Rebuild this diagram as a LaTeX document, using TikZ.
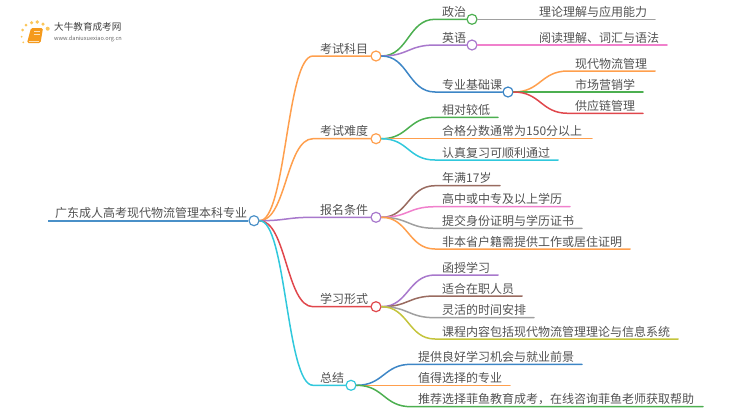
\documentclass[tikz,border=0pt]{standalone}
\usepackage{fontspec}
\setmainfont{Noto Sans CJK SC}
\usepackage{xcolor}
\usetikzlibrary{calc}
\definecolor{rootblue}{HTML}{4A90C8}
\definecolor{orangeline}{HTML}{FF9F4D}
\definecolor{greenline}{HTML}{4CAF50}
\definecolor{purpleline}{HTML}{A878CC}
\definecolor{blueline}{HTML}{3D86C6}
\definecolor{redline}{HTML}{E0474C}
\definecolor{cyanline}{HTML}{30C8DC}
\definecolor{brownline}{HTML}{996B60}
\definecolor{pinkline}{HTML}{F080CC}
\definecolor{grayline}{HTML}{A0A0A0}
\definecolor{oliveline}{HTML}{C4C43C}
\definecolor{logoorange}{HTML}{F59A1C}
\definecolor{logodot}{HTML}{FBC65A}
\tikzset{
  topicnode/.style={font=\fontsize{12}{14}\selectfont,text=black!68,inner sep=0pt,anchor=base west},
  junction/.style={circle,draw,fill=white,line width=1.2pt,minimum size=10pt,inner sep=0pt},
  branchline/.style={line width=1.5pt,line cap=round},
  linkcurve/.style={to path={.. controls ($(\tikztostart)!.5!(\tikztotarget|-\tikztostart)$)
    and ($(\tikztotarget)!.5!(\tikztostart|-\tikztotarget)$) .. (\tikztotarget)}},
  logodots/.style={circle,fill=logodot,inner sep=0pt}
}
\begin{document}
\begin{tikzpicture}[x=1pt,y=-1pt]
  \useasboundingbox (0,0) rectangle (750,410);
  % logo
  \foreach \x/\y/\d in {22.7/30/3,26/25/3,31.7/22.7/3.5,37.3/22/3.8,43/24/3.5,47.7/28.7/4,21.7/36.7/2,23.3/42.3/2}
    \node[logodots,minimum size=\d pt] at (\x,\y) {};
  \fill[logoorange,rounded corners=1.5pt] (31,28) -- (43,28) -- (40.5,43) -- (27,43) -- cycle;
  \draw[white!70!logoorange,line width=.4pt] (34,31.5) -- (40,31.5) (33.5,34) -- (39.5,34) (28.5,41) -- (39,41);
  \shade[left color=white,middle color=black!22,right color=white] (45,32.8) rectangle (133,33.5);
  \node[font=\fontsize{9.6}{11}\selectfont,text=black!75,inner sep=0pt,anchor=base west] (logoname) at (54,30.5) {大牛教育成考网};
  \node[font=\fontsize{5.6}{7}\selectfont,text=black!60,inner sep=0pt,anchor=base west] (logourl) at (54,40.5) {www.daniuxuexiao.org.cn};
  % root
  \coordinate (rootstart) at (48,220.7);
  \node[junction,draw=rootblue] (root) at (254,220.7) {};
  \node[topicnode] (roottext) at (55,217.5) {广东成人高考现代物流管理本科专业};
  \draw[line width=2pt,rootblue] (rootstart) -- (root);
  % name/parent/bend x/y/circle x/colour/label
  \foreach \n/\p/\xb/\y/\xc/\col/\lab in {
    kemu/root/313/56/376/orangeline/考试科目,
    nandu/root/313/138.7/376/orangeline/考试难度,
    baoming/root/313/217.3/376/purpleline/报名条件,
    xingshi/root/313/306.7/376/redline/学习形式,
    zongjie/root/313/385.3/351/cyanline/总结,
    zhengzhi/kemu/435/19.3/472/greenline/政治,
    yingyu/kemu/435/45/472/purpleline/英语,
    zhuanye/kemu/435/92/508/blueline/专业基础课}{
    \node[junction,draw=\col] (\n) at (\xc,\y) {};
    \coordinate (\n bend) at (\xb,\y);
    \node[topicnode] (\n text) at ($(\n bend)+(7,-3)$) {\lab};
    \draw[branchline,draw=\col] (\p.east) to[linkcurve] (\n bend) -- (\n.west);
  }
  % name/parent/bend x/y/end x/colour/label
  \foreach \n/\p/\xb/\y/\xe/\col/\lab in {
    lilun/zhengzhi/532/19.3/655/grayline/理论理解与应用能力,
    yuedu/yingyu/532/45/667/pinkline/阅读理解、词汇与语法,
    wuliu/zhuanye/568/71/655/orangeline/现代物流管理,
    yingxiao/zhuanye/568/92/643/greenline/市场营销学,
    gongying/zhuanye/568/113.3/643/redline/供应链管理,
    jiaodi/nandu/435/117.3/498/greenline/相对较低,
    hege/nandu/435/138.7/592/orangeline/合格分数通常为150分以上,
    fuxi/nandu/435/160/558/cyanline/认真复习可顺利通过,
    nianman/baoming/435/185.7/500/brownline/年满17岁,
    xueli/baoming/435/206.7/570/pinkline/高中或中专及以上学历,
    shenfen/baoming/435/228.3/582/grayline/提交身份证明与学历证书,
    huji/baoming/435/249/630/orangeline/非本省户籍需提供工作或居住证明,
    hanshou/xingshi/435/275/498/purpleline/函授学习,
    zaizhi/xingshi/435/296/522/brownline/适合在职人员,
    linghuo/xingshi/435/317.7/534/grayline/灵活的时间安排,
    kecheng/xingshi/435/339/678/oliveline/课程内容包括现代物流管理理论与信息系统,
    jihui/zongjie/411/364.3/582/blueline/提供良好学习机会与就业前景,
    zhide/zongjie/411/385.3/510/orangeline/值得选择的专业,
    tuijian/zongjie/411/406.7/703/greenline/推荐选择菲鱼教育成考，在线咨询菲鱼老师获取帮助}{
    \coordinate (\n bend) at (\xb,\y);
    \coordinate (\n end) at (\xe,\y);
    \node[topicnode] (\n text) at ($(\n bend)+(7,-3)$) {\lab};
    \draw[branchline,draw=\col] (\p.east) to[linkcurve] (\n bend) -- (\n end);
  }
\end{tikzpicture}
\end{document}
